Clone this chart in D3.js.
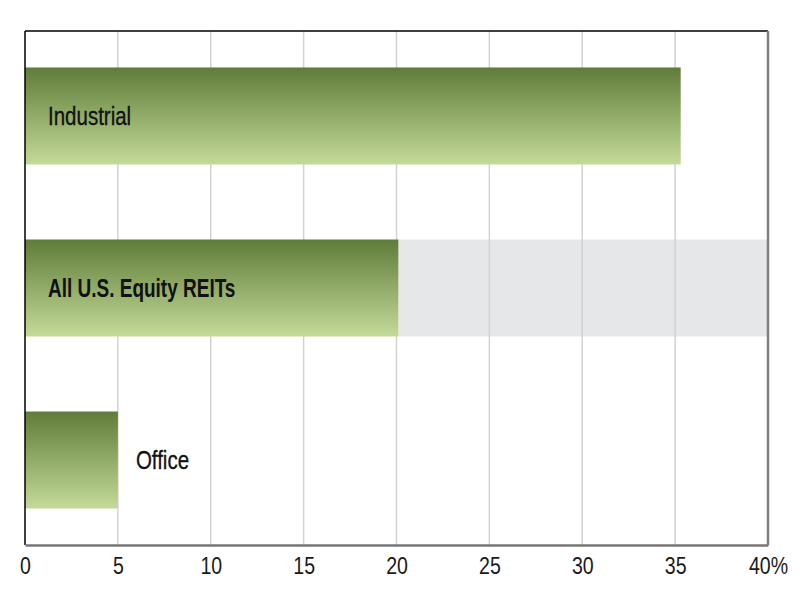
<!DOCTYPE html>
<html>
<head>
<meta charset="utf-8">
<script src="https://cdn.jsdelivr.net/npm/d3@7"></script>
<style>
    body { margin: 0; background: #fff; }
    svg text { font-family: "Liberation Sans", Arial, sans-serif; }
</style>
</head>
<body>
<div id="chart"></div>
<script>
const width = 800;
const height = 600;
const margin = { top: 31, right: 32, bottom: 55, left: 25 };

const categories = ["Industrial", "All U.S. Equity REITs", "Office"];
const values = [35.3, 20.1, 5.0];
const tickValues = [0, 5, 10, 15, 20, 25, 30, 35, 40];
const highlight = "All U.S. Equity REITs";

const innerW = width - margin.left - margin.right;
const innerH = height - margin.top - margin.bottom;

const svg = d3.select("#chart")
    .append("svg")
    .attr("width", width)
    .attr("height", height);

const defs = svg.append("defs");
const grad = defs.append("linearGradient")
    .attr("id", "barGrad")
    .attr("x1", 0).attr("y1", 0)
    .attr("x2", 0).attr("y2", 1);
grad.append("stop").attr("offset", "0%").attr("stop-color", "#5f7c38");
grad.append("stop").attr("offset", "100%").attr("stop-color", "#c4da98");

const g = svg.append("g")
    .attr("transform", `translate(${margin.left}, ${margin.top})`);

const xScale = d3.scaleLinear()
    .domain([0, 40])
    .range([0, innerW]);

const yScale = d3.scaleBand()
    .domain(categories)
    .range([0, innerH])
    .paddingInner(0.436)
    .paddingOuter(0.212);

// grey band behind the highlighted row
const hiVal = values[categories.indexOf(highlight)];
g.append("rect")
    .attr("x", xScale(hiVal))
    .attr("y", yScale(highlight))
    .attr("width", xScale(40) - xScale(hiVal))
    .attr("height", yScale.bandwidth())
    .attr("fill", "#e6e7e8");

// gridlines
g.selectAll(".grid")
    .data(tickValues.slice(1, -1))
    .enter()
    .append("line")
    .attr("class", "grid")
    .attr("x1", d => xScale(d))
    .attr("x2", d => xScale(d))
    .attr("y1", 0)
    .attr("y2", innerH)
    .attr("stroke", "#d2d2d2")
    .attr("stroke-width", 1.5);

// bars
g.selectAll(".bar")
    .data(categories)
    .enter()
    .append("rect")
    .attr("class", "bar")
    .attr("x", 0)
    .attr("y", d => yScale(d))
    .attr("width", (d, i) => xScale(values[i]))
    .attr("height", yScale.bandwidth())
    .attr("fill", "url(#barGrad)");

// labels: inside the bar, or to the right when the bar is short
// (no condensed font installed, so squeeze Liberation Sans horizontally)
g.selectAll(".label")
    .data(categories)
    .enter()
    .append("text")
    .attr("class", "label")
    .attr("transform", (d, i) => {
        const x = xScale(values[i]) > 150 ? 23 : xScale(values[i]) + 18;
        const y = yScale(d) + yScale.bandwidth() / 2;
        const sx = d === highlight ? 0.76 : 0.82;
        return `translate(${x}, ${y}) scale(${sx}, 1)`;
    })
    .attr("dy", "0.36em")
    .attr("font-size", "25px")
    .attr("font-weight", d => d === highlight ? "bold" : "normal")
    .attr("fill", "#111")
    .attr("stroke", d => d === highlight ? "none" : "#111")
    .attr("stroke-width", 0.3)
    .text(d => d);

// frame
g.append("line")
    .attr("x1", 0).attr("x2", innerW)
    .attr("y1", 0).attr("y2", 0)
    .attr("stroke", "#000").attr("stroke-width", 1.5);
g.append("line")
    .attr("x1", 0).attr("x2", 0)
    .attr("y1", 0).attr("y2", innerH)
    .attr("stroke", "#000").attr("stroke-width", 1.5);
g.append("line")
    .attr("x1", innerW).attr("x2", innerW)
    .attr("y1", 0).attr("y2", innerH)
    .attr("stroke", "#808080").attr("stroke-width", 2.5);

// x axis
const xAxis = d3.axisBottom(xScale)
    .tickValues(tickValues)
    .tickSize(0)
    .tickPadding(13)
    .tickFormat(d => d === 40 ? "40%" : d);

const xAxisGroup = g.append("g")
    .attr("transform", `translate(0, ${innerH})`)
    .call(xAxis);

xAxisGroup.select(".domain")
    .attr("stroke", "#777")
    .attr("stroke-width", 2.5);

xAxisGroup.selectAll("text")
    .attr("font-size", "23px")
    .attr("fill", "#1a1a1a")
    .attr("transform", "scale(0.85, 1)")
    .style("font-family", "'Liberation Sans', Arial, sans-serif");
</script>
</body>
</html>
